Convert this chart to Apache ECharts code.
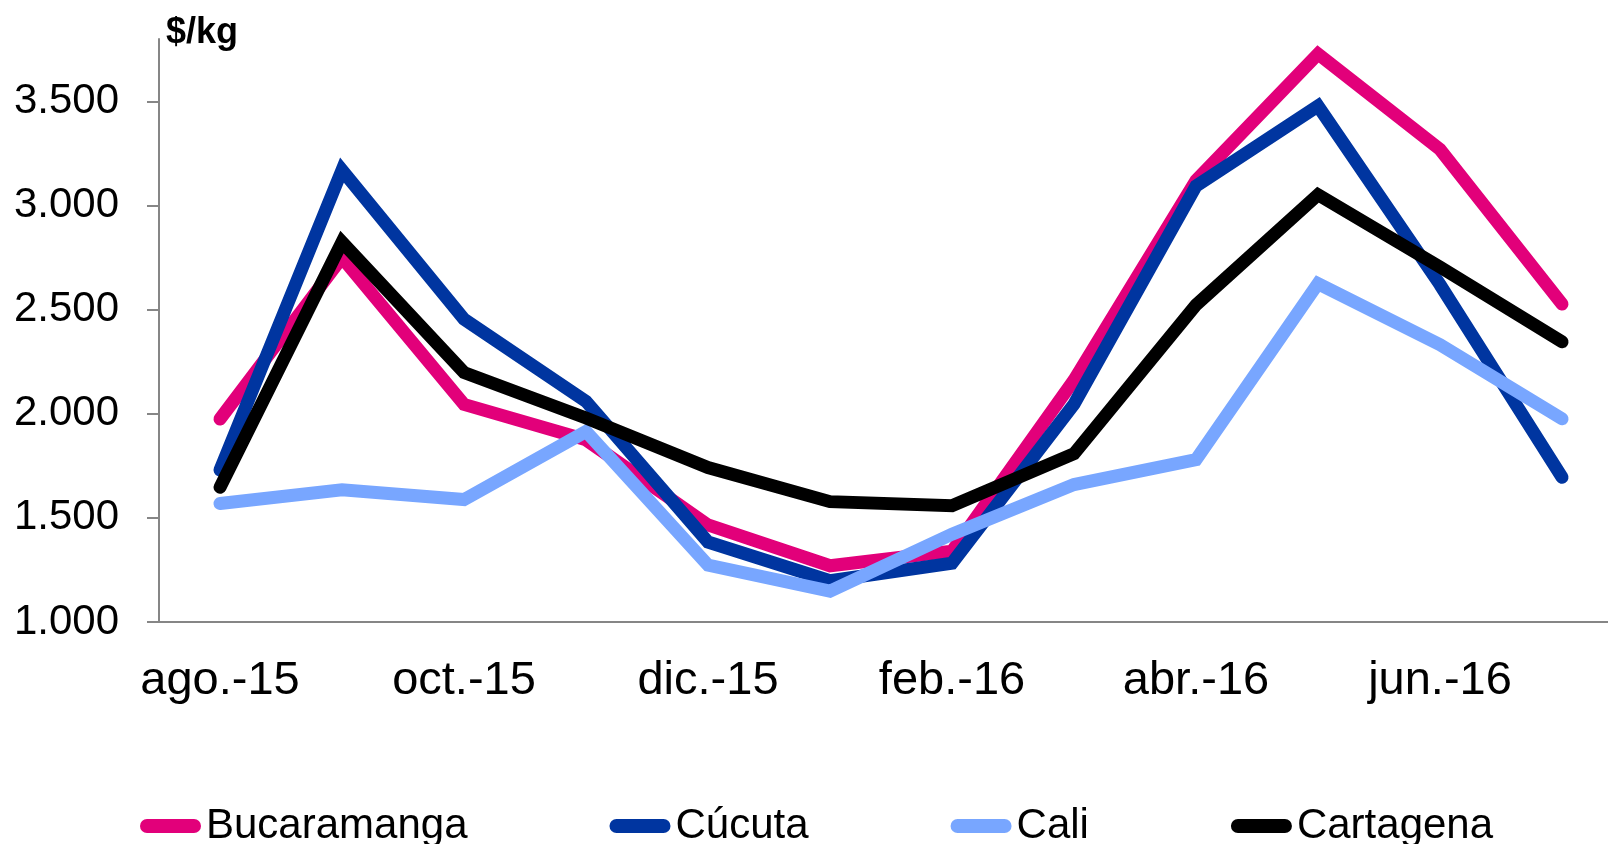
<!DOCTYPE html>
<html>
<head>
<meta charset="utf-8">
<script src="https://cdn.jsdelivr.net/npm/echarts@6/dist/echarts.min.js"></script>
<style>
html,body{margin:0;padding:0;background:#fff;}
#c{width:1608px;height:844px;}
</style>
</head>
<body>
<div id="c"></div>
<script>
var categories = ['ago.-15','sep.-15','oct.-15','nov.-15','dic.-15','ene.-16','feb.-16','mar.-16','abr.-16','may.-16','jun.-16','jul.-16'];
var bucaramanga = [1975, 2750, 2045, 1875, 1466, 1270, 1340, 2162, 3121, 3728, 3270, 2527];
var cucuta      = [1730, 3170, 2455, 2060, 1384, 1198, 1282, 2046, 3094, 3478, 2620, 1695];
var cali        = [1569, 1635, 1588, 1915, 1273, 1148, 1422, 1660, 1780, 2625, 2332, 1976];
var cartagena   = [1647, 2825, 2198, 1980, 1742, 1578, 1558, 1808, 2523, 3052, 2705, 2346];
var yTicks = [1000, 1500, 2000, 2500, 3000, 3500];
var yTickLabels = ['1.000', '1.500', '2.000', '2.500', '3.000', '3.500'];
var seriesNames = ['Bucaramanga', 'Cúcuta', 'Cali', 'Cartagena'];

var FONT = '"Liberation Sans", Arial, sans-serif';
var colors = ['#E2007A', '#0035A0', '#78A6FF', '#000000'];
var dataSets = [bucaramanga, cucuta, cali, cartagena];

var chart = echarts.init(document.getElementById('c'), null, {renderer: 'canvas'});
var option = {
  animation: false,
  backgroundColor: '#ffffff',
  color: colors,
  title: {
    text: '$/kg',
    left: 166,
    top: 15,
    padding: 0,
    textStyle: {fontFamily: FONT, fontSize: 36, fontWeight: 'bold', color: '#000'}
  },
  legend: {
    left: 140,
    top: 805,
    padding: 0,
    itemGap: 142,
    itemWidth: 61,
    itemHeight: 14,
    icon: 'path://M7,0 L54,0 A7,7 0 0 1 54,14 L7,14 A7,7 0 0 1 7,0 Z',
    textStyle: {fontFamily: FONT, fontSize: 42, color: '#000'},
    data: seriesNames
  },
  grid: {left: 159, right: -15, top: 39, bottom: 222, containLabel: false, outerBoundsMode: 'none'},
  xAxis: {
    type: 'category',
    data: categories,
    boundaryGap: true,
    axisLine: {show: true, lineStyle: {color: '#868686', width: 2}},
    axisTick: {show: false},
    axisLabel: {interval: 1, margin: 36, fontFamily: FONT, fontSize: 47, color: '#000', hideOverlap: false},
    splitLine: {show: false}
  },
  yAxis: {
    type: 'value',
    min: 1000,
    max: 3800,
    interval: 500,
    axisLine: {show: true, lineStyle: {color: '#868686', width: 2}},
    axisTick: {show: true, length: 12, inside: false, customValues: yTicks, lineStyle: {color: '#868686', width: 2}},
    axisLabel: {
      margin: 40, fontFamily: FONT, fontSize: 42, color: '#000',
      customValues: yTicks,
      formatter: function (v) { var i = yTicks.indexOf(v); return i >= 0 ? yTickLabels[i] : ''; }
    },
    splitLine: {show: false}
  },
  series: seriesNames.map(function (n, i) {
    return {
      name: n,
      type: 'line',
      data: dataSets[i],
      symbol: 'none',
      lineStyle: {width: 13, color: colors[i], cap: 'round', join: 'miter'},
      itemStyle: {color: colors[i]}
    };
  })
};
chart.setOption(option);
</script>
</body>
</html>
